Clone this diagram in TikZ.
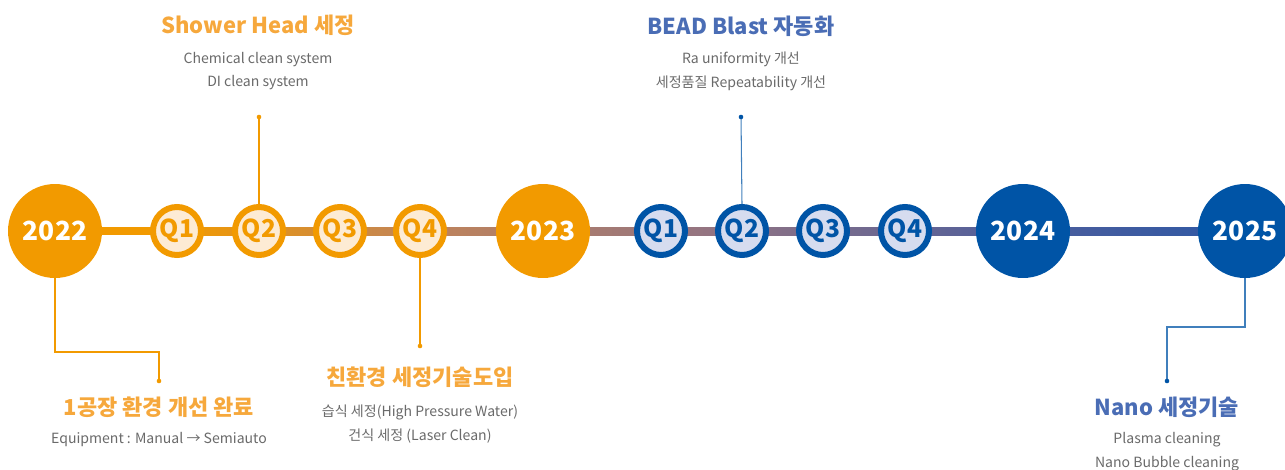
\documentclass[tikz,border=0pt]{standalone}
\usepackage{fontspec}
\setmainfont{Noto Sans CJK KR}
\definecolor{org}{HTML}{F29A00}
\definecolor{orgtxt}{HTML}{F6A83C}
\definecolor{orglt}{HTML}{FDEBD4}
\definecolor{blu}{HTML}{0054A6}
\definecolor{blutxt}{HTML}{4A6DB5}
\definecolor{blult}{HTML}{D6DCEF}
\definecolor{linea}{HTML}{C0845A}
\definecolor{lineb}{HTML}{937482}
\definecolor{linec}{HTML}{4E5E9C}
\definecolor{lined}{HTML}{2D58A5}
\definecolor{txtgray}{HTML}{6A6A6A}
\tikzset{
  year/.style={circle, minimum size=1.88cm, inner sep=0pt, text=white, font=\fontsize{15}{16}\selectfont\bfseries},
  quarter/.style={circle, minimum size=0.96cm, inner sep=0pt, line width=0.12cm, font=\fontsize{14}{15}\selectfont\bfseries},
  oq/.style={quarter, draw=org, fill=orglt, text=org},
  bq/.style={quarter, draw=blu, fill=blult, text=blu},
  title/.style={font=\fontsize{12.5}{15}\selectfont\bfseries},
  sub/.style={align=center, text=txtgray, font=\fontsize{8}{13.6}\selectfont},
  lead/.style={line width=0.6pt},
}
\begin{document}
\begin{tikzpicture}[x=0.02cm,y=-0.02cm]
\useasboundingbox (0,0) rectangle (1285,470);
% time line
\fill[org] (55,227) rectangle (178,235);
\shade[left color=org, right color=linea] (177,227) rectangle (421,235);
\shade[left color=linea, right color=lineb] (420,227) rectangle (712,235);
\shade[left color=lineb, right color=linec] (711,227) rectangle (1024,235);
\shade[left color=linec, right color=lined] (1023,227) rectangle (1245,235);
% years and quarters
\node[year, fill=org] (y22) at (55,231) {2022};
\node[oq] (a1) at (177,231) {Q1};
\node[oq] (a2) at (259,231) {Q2};
\node[oq] (a3) at (340,231) {Q3};
\node[oq] (a4) at (420,231) {Q4};
\node[year, fill=org] (y23) at (543,231) {2023};
\node[bq] (b1) at (661,231) {Q1};
\node[bq] (b2) at (742,231) {Q2};
\node[bq] (b3) at (823,231) {Q3};
\node[bq] (b4) at (905,231) {Q4};
\node[year, fill=blu] (y24) at (1023,231) {2024};
\node[year, fill=blu] (y25) at (1245,231) {2025};
% leads
\coordinate (k22) at (159,352);
\coordinate (d22) at (159,381);
\coordinate (da2) at (259,117);
\coordinate (da4) at (420,346);
\coordinate (db2) at (741,117);
\coordinate (k25) at (1167,327);
\coordinate (d25) at (1167,381);
\draw[lead, org] (y22.south) |- (k22) -- (d22);
\draw[lead, org] (a2.north) -- (da2);
\draw[lead, org] (a4.south) -- (da4);
\draw[lead, blu!75] (b2.north) -- (db2);
\draw[lead, blu!75] (y25.south) |- (k25) -- (d25);
\fill[org] (d22) circle (1.3pt);
\fill[org] (da2) circle (1.3pt);
\fill[org] (da4) circle (1.3pt);
\fill[blu] (db2) circle (1.3pt);
\fill[blu] (d25) circle (1.3pt);
% texts
\node[title, text=orgtxt] (t1) at (258,25) {Shower Head 세정};
\node[sub] (s1) at (258,71) {Chemical clean system\\DI clean system};
\node[title, text=blutxt] (t2) at (741,26) {BEAD Blast 자동화};
\node[sub] (s2) at (741,71) {Ra uniformity 개선\\세정품질 Repeatability 개선};
\node[title, text=orgtxt] (t3) at (159,407) {1공장 환경 개선 완료};
\node[sub] (s3) at (159,440) {Equipment : Manual → Semiauto};
\node[title, text=orgtxt] (t4) at (420,377) {친환경 세정기술도입};
\node[sub] (s4) at (420,424) {습식 세정(High Pressure Water)\\건식 세정 (Laser Clean)};
\node[title, text=blutxt] (t5) at (1167,407) {Nano 세정기술};
\node[sub] (s5) at (1167,452) {Plasma cleaning\\Nano Bubble cleaning};
\end{tikzpicture}
\end{document}
